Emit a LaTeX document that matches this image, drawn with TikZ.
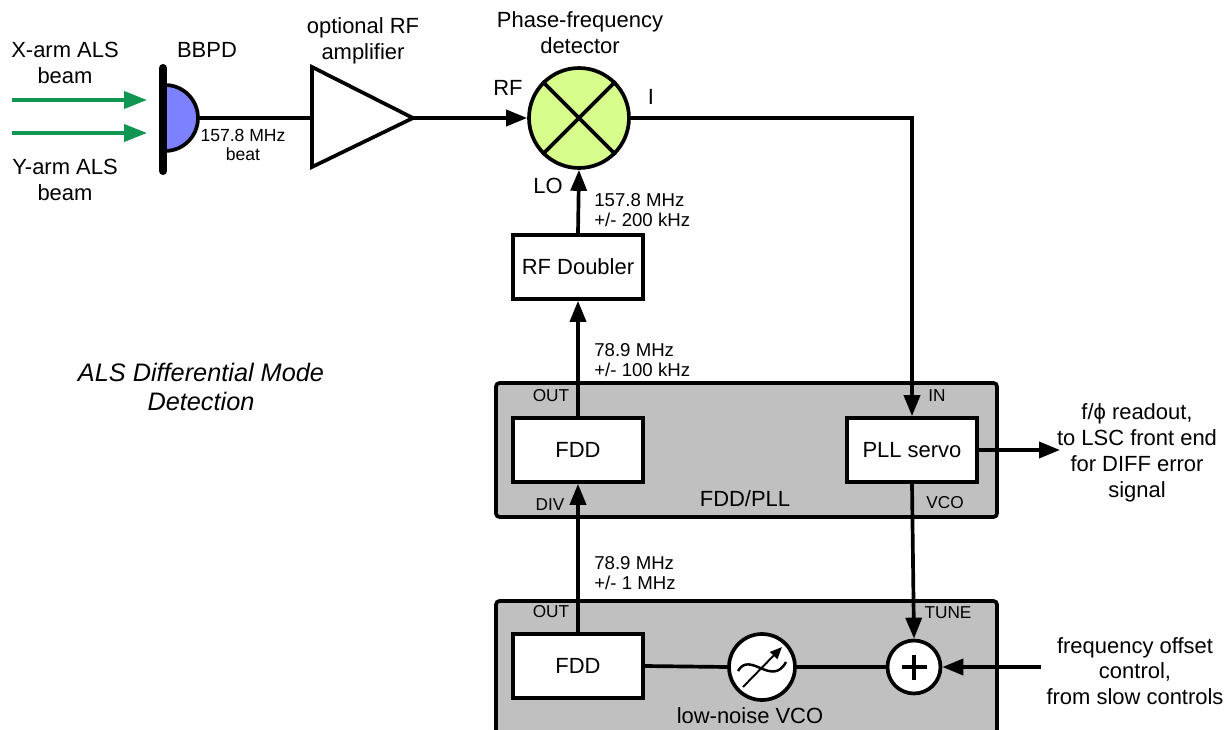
\documentclass[tikz,border=0pt]{standalone}
\usepackage{fontspec}
\setmainfont{Liberation Sans}
\usetikzlibrary{arrows.meta,positioning}

\definecolor{pdblue}{RGB}{125,128,255}
\definecolor{pfdgreen}{RGB}{215,253,140}
\definecolor{panelgrey}{RGB}{192,192,192}
\definecolor{beamgreen}{RGB}{16,150,82}

\tikzset{
  wire/.style={line width=2.1pt},
  sig/.style={wire,-{Triangle[length=0.42cm,width=0.32cm]}},
  beam/.style={line width=2.1pt,draw=beamgreen,-{Triangle[length=0.46cm,width=0.34cm]}},
  blk/.style={draw,line width=2.1pt,fill=white,minimum width=2.6cm,minimum height=1.28cm,
    inner sep=0pt,font=\fontsize{12.5}{15}\selectfont},
  panel/.style={draw,line width=2.1pt,fill=panelgrey,rounded corners=2pt},
  lbl/.style={font=\fontsize{12.5}{14.7}\selectfont,align=center,inner sep=0pt},
  freq/.style={font=\fontsize{10.6}{11.4}\selectfont,align=left,inner sep=0pt,anchor=west},
  port/.style={font=\fontsize{9.8}{11}\selectfont,inner sep=0pt},
}

\begin{document}
\begin{tikzpicture}[x=0.02cm,y=-0.02cm]
    \useasboundingbox (0,0) rectangle (1225,730);
    \clip (0,0) rectangle (1225,730);

    % Panels
    \draw [panel] (496,383) rectangle (997,517);
    \draw [panel] (496,601) rectangle (997,760);

    % Beams
    \coordinate (xBeam) at (12,100);
    \coordinate (xHit) at (147,100);
    \coordinate (yBeam) at (12,133);
    \coordinate (yHit) at (147,133);
    \draw [beam] (xBeam) -- (xHit);
    \draw [beam] (yBeam) -- (yHit);
    \node [lbl] at (65,63) {X-arm ALS\\beam};
    \node [lbl] at (65,180) {Y-arm ALS\\beam};

    % BBPD
    \filldraw [fill=pdblue,wire] (165,85) arc [start angle=90,end angle=-90,radius=0.66cm];
    \draw [line width=4.6pt,line cap=round] (163,68) -- (163,171);
    \coordinate (pdOut) at (198,118);
    \node [lbl] at (207,50) {BBPD};
    \node [lbl,font=\fontsize{10}{11.3}\selectfont] at (243,145) {157.8 MHz\\beat};

    % RF amplifier
    \coordinate (ampIn) at (312,118);
    \coordinate (ampOut) at (413,118);
    \draw [wire,line join=miter] (312,67) -- (ampOut) -- (312,167) -- cycle;
    \node [lbl] at (363,41) {optional RF\\amplifier};

    % Phase-frequency detector
    \node [circle,draw,wire,fill=pfdgreen,minimum size=2.0cm,inner sep=0pt] (pfd) at (579,118) {};
    \draw [wire] (pfd.north west) -- (pfd.south east);
    \draw [wire] (pfd.north east) -- (pfd.south west);
    \node [lbl] at (580,33) {Phase-frequency\\detector};
    \node [lbl] at (508,88) {RF};
    \node [lbl] at (651,97) {I};
    \node [lbl] at (548,186) {LO};

    % Blocks
    \node [blk] (doubler) at (578,267) {RF Doubler};
    \node [blk] (fddA) at (578,450) {FDD};
    \node [blk] (pll) at (912,450) {PLL servo};
    \node [blk] (fddB) at (578,666) {FDD};

    % VCO and summing point
    \node [circle,draw,wire,fill=white,minimum size=1.32cm,inner sep=0pt] (vco) at (762,667) {};
    \draw [line width=1.4pt] (738,671) .. controls (750,650) and (772,688) .. (786,662);
    \draw [line width=1.1pt,-{Triangle[length=0.24cm,width=0.2cm]}] (743,687) -- (782,647);
    \node [circle,draw,wire,fill=white,minimum size=1.06cm,inner sep=0pt] (sum) at (914,667) {};
    \draw [wire] (sum.center) ++(-0.25cm,0) -- ++(0.5cm,0);
    \draw [wire] (sum.center) ++(0,-0.25cm) -- ++(0,0.5cm);

    % Connections
    \draw [wire] (pdOut) -- (ampIn);
    \draw [sig] (ampOut) -- (pfd.west);
    \draw [sig] (pfd.east) -| (pll.north);
    \draw [sig] (doubler.north) -- (pfd.south);
    \draw [sig] (fddA.north) -- (doubler.south);
    \draw [sig] (fddB.north) -- (fddA.south);
    \draw [sig] (pll.south) -- (sum.north);
    \draw [wire] (fddB.east) -- (vco.west);
    \draw [wire] (vco.east) -- (sum.west);
    \coordinate (readout) at (1060,450);
    \coordinate (offset) at (1041,667);
    \draw [sig] (pll.east) -- (readout);
    \draw [sig] (offset) -- (sum.east);

    % Frequency labels
    \node [freq] at (594,210) {157.8 MHz\\+/- 200 kHz};
    \node [freq] at (594,360) {78.9 MHz\\+/- 100 kHz};
    \node [freq] at (594,573) {78.9 MHz\\+/- 1 MHz};

    % Port labels
    \node [port] at (551,396) {OUT};
    \node [port] at (937,396) {IN};
    \node [port] at (550,505) {DIV};
    \node [port] at (945,503) {VCO};
    \node [lbl] at (745,499) {FDD/PLL};
    \node [port] at (551,612) {OUT};
    \node [port] at (948,613) {TUNE};
    \node [lbl] at (750,716) {low-noise VCO};

    % Outside texts
    \node [lbl] at (1137,453) {f/ϕ readout,\\to LSC front end\\for DIFF error\\signal};
    \node [lbl] at (1135,671) {frequency offset\\control,\\from slow controls};
    \node [lbl,font=\fontsize{14.4}{17}\selectfont\itshape] at (201,387) {ALS Differential Mode\\Detection};
\end{tikzpicture}
\end{document}
